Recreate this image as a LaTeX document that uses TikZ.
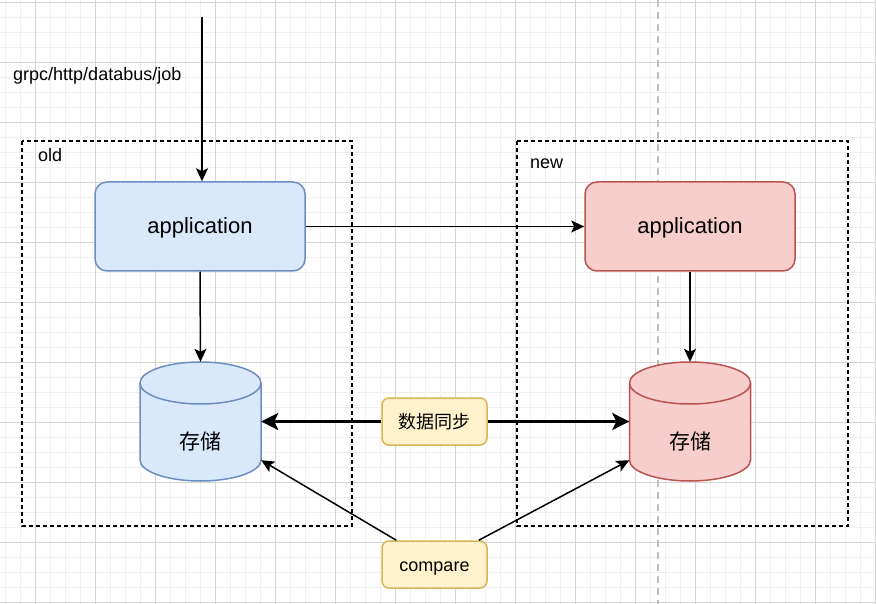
\documentclass[tikz,border=0pt]{standalone}
\usepackage{fontspec}
\setmainfont{Liberation Sans}
\newfontfamily\cjk{Noto Sans CJK SC}
\usetikzlibrary{arrows.meta}
\definecolor{oldfill}{HTML}{DAE8FC}
\definecolor{oldline}{HTML}{6C8EBF}
\definecolor{newfill}{HTML}{F8CECC}
\definecolor{newline}{HTML}{B85450}
\definecolor{tagfill}{HTML}{FFF2CC}
\definecolor{tagline}{HTML}{D6B656}
\definecolor{gridminor}{HTML}{F0F0F0}
\definecolor{gridmajor}{HTML}{D4D4D4}
% cylinder body drawn round a centre point
\newcommand\storage[3]{%
  \filldraw[#3] (#1-60.5,#2-38.5) -- (#1-60.5,#2+38.5)
    arc[start angle=180,end angle=360,x radius=60.5pt,y radius=21pt]
    -- (#1+60.5,#2-38.5)
    arc[start angle=0,end angle=180,x radius=60.5pt,y radius=21pt] -- cycle;
  \draw[#3] (#1-60.5,#2-38.5)
    arc[start angle=180,end angle=360,x radius=60.5pt,y radius=21pt];}
\begin{document}
\begin{tikzpicture}[x=1pt,y=-1pt,
  app/.style={draw, rounded corners=12pt, line width=1.5pt, minimum width=210pt, minimum height=89pt, text height=18pt, text depth=4.4pt, font=\fontsize{22}{26}\selectfont},
  db/.style={minimum width=121pt, minimum height=119pt, inner sep=0pt, font=\cjk\fontsize{21}{25}\selectfont},
  tag/.style={draw=tagline, fill=tagfill, rounded corners=7pt, line width=1.5pt, minimum width=105pt, minimum height=47pt, text height=16.5pt, text depth=3.5pt, font=\fontsize{18}{22}\selectfont},
  lbl/.style={anchor=base west, inner sep=0pt, font=\fontsize{18}{22}\selectfont},
  link/.style={line width=1.5pt, -{Stealth[length=13pt,width=12pt,inset=3pt]}},
  sync/.style={line width=3pt, -{Stealth[length=17pt,width=17pt,inset=4pt]}},
  frame/.style={dash pattern=on 4pt off 3pt, line width=1.5pt}]
\useasboundingbox (0,0) rectangle (876,604);
\fill[white] (0,0) rectangle (876,604);
% grid
\begin{scope}
\clip (0,0) rectangle (876,604);
\foreach \x in {5,20,...,875} \draw[gridminor] (\x,0) -- (\x,604);
\foreach \y in {2,17,...,602} \draw[gridminor] (0,\y) -- (876,\y);
\foreach \x in {35,95,...,875} \draw[gridmajor] (\x,0) -- (\x,604);
\foreach \y in {2,62,...,602} \draw[gridmajor] (0,\y) -- (876,\y);
\end{scope}
\draw[gray!50, line width=2pt, dash pattern=on 7pt off 5pt] (658,0) -- (658,604);
% groups
\draw[frame] (22,141) rectangle (352,526);
\draw[frame] (517,141) rectangle (848,526);
\node[lbl] (oldlbl) at (38,162) {old};
\node[lbl] (newlbl) at (530,169) {new};
\node[lbl] (src) at (13,81) {grpc/http/databus/job};
\coordinate (in) at (202,17);
% apps
\node[app, draw=oldline, fill=oldfill] (oldapp) at (200,226.5) {application};
\node[app, draw=newline, fill=newfill] (newapp) at (690,226.5) {application};
% storage
\storage{200.5}{421.5}{draw=oldline, fill=oldfill, line width=1.5pt}
\node[db] (olddb) at (200.5,421.5) {\raisebox{-27.5pt}[0pt][0pt]{存储}};
\storage{690}{421.5}{draw=newline, fill=newfill, line width=1.5pt}
\node[db] (newdb) at (690,421.5) {\raisebox{-27.5pt}[0pt][0pt]{存储}};
\node[tag] (sync) at (434.5,421.5) {\cjk 数据同步};
\node[tag] (cmp) at (434.5,564.5) {compare};
% connectors
\draw[link] (in) -- (in |- oldapp.north);
\draw[link] (oldapp.east) -- (newapp.west);
\draw[link] (oldapp.south) -- (olddb.north);
\draw[link] (newapp.south) -- (newdb.north);
\draw[sync] (sync.west) -- (olddb.east);
\draw[sync] (sync.east) -- (newdb.west);
\draw[link] ([xshift=15pt]cmp.north west) -- ([yshift=21pt]olddb.south east);
\draw[link] ([xshift=-9pt]cmp.north east) -- ([yshift=21pt]newdb.south west);
\end{tikzpicture}
\end{document}
